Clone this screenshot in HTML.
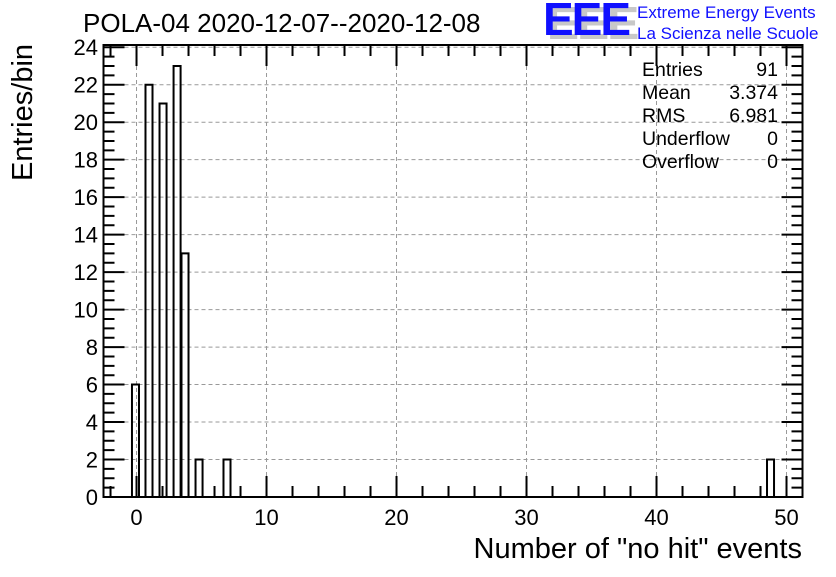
<!DOCTYPE html>
<html><head><meta charset="utf-8"><style>
body{margin:0;background:#fff;width:836px;height:572px;overflow:hidden}
svg{font-family:"Liberation Sans",sans-serif}
</style></head><body>
<svg id="c" width="836" height="572"></svg>
<script>
const binLo=[-0.35,0.69,1.77,2.85,3.46,4.54,6.69,48.5];
const counts=[6,22,21,23,13,2,2,2];
const binW=0.54;
const xTicks=[0,10,20,30,40,50];
const yTicks=[0,2,4,6,8,10,12,14,16,18,20,22,24];
const statNames=["Entries","Mean","RMS","Underflow","Overflow"];
const statVals=["91","3.374","6.981","0","0"];

const L=103.5,R=802.5,T=45,B=497;
const xmin=-2.54,xmax=51.23,ymin=0,ymax=24.12;
const sx=v=>L+(v-xmin)/(xmax-xmin)*(R-L);
const sy=v=>B-(v-ymin)/(ymax-ymin)*(B-T);
const svg=document.getElementById('c');
const NS="http://www.w3.org/2000/svg";
function mk(tag,attrs,parent){const e=document.createElementNS(NS,tag);for(const k in attrs)e.setAttribute(k,attrs[k]);(parent||svg).appendChild(e);return e;}
for(const t of xTicks){const g=mk('line',{x1:sx(t),x2:sx(t),y1:T,y2:B,stroke:'#999','stroke-dasharray':'4,3','stroke-width':1});

}
for(const t of yTicks){const g=mk('line',{x1:L,x2:R,y1:sy(t),y2:sy(t),stroke:'#999','stroke-dasharray':'4,3','stroke-width':1});

}
for(let i=0;i<counts.length;i++){
 const x0=sx(binLo[i]),x1=sx(binLo[i]+binW),y=sy(counts[i]);
 const p=mk('path',{d:`M${x0},${B} L${x0},${y} L${x1},${y} L${x1},${B}`,fill:'none',stroke:'#000','stroke-width':2});
 
 
}
let d='';
for(let v=-2;v<=51;v+=2){const x=sx(v);const len=(v%10===0)?21:11;d+=`M${x},${B}v${-len}M${x},${T}v${len}`;}
for(let v=0;v<=24;v+=0.5){const y=sy(v);const len=(v%2===0)?21:11;d+=`M${L},${y}h${len}M${R},${y}h${-len}`;}
const tk=mk('path',{d:d,stroke:'#000','stroke-width':2,fill:'none'});


const fr=mk('rect',{x:L,y:T,width:R-L,height:B-T,fill:'none',stroke:'#000','stroke-width':2});


for(const t of xTicks){const e=mk('text',{x:sx(t),y:525,'text-anchor':'middle','font-size':22});e.textContent=t;

}
for(const t of yTicks){const e=mk('text',{x:98,y:sy(t)+8,'text-anchor':'end','font-size':22});e.textContent=t;

}
statNames.forEach((n,i)=>{
 const y=76+i*23;
 const a=mk('text',{x:642,y:y,'font-size':19.5});a.textContent=n;
 
 
 const b=mk('text',{x:778,y:y,'font-size':19.5,'text-anchor':'end'});b.textContent=statVals[i];
 
 
});
</script>
<div style="position:absolute;left:83px;top:8px;font:26px 'Liberation Sans',sans-serif;white-space:nowrap">POLA-04 2020-12-07--2020-12-08</div>
<div style="position:absolute;right:34px;top:533px;font:29px 'Liberation Sans',sans-serif;white-space:nowrap">Number of "no hit" events</div>
<div style="position:absolute;left:7px;top:181px;transform-origin:0 0;transform:rotate(-90deg);font:29px 'Liberation Sans',sans-serif;white-space:nowrap">Entries/bin</div>
<div style="position:absolute;left:549px;top:0px;font:bold 46px 'Liberation Sans',sans-serif;color:#c8c8c8;letter-spacing:-2px;line-height:46px;transform:scaleX(1.05)">EEE</div>
<div style="position:absolute;left:543px;top:-4px;font:bold 46px 'Liberation Sans',sans-serif;color:#1010ff;letter-spacing:-2px;line-height:46px">EEE</div>
<div style="position:absolute;left:637px;top:2px;font:17px 'Liberation Sans',sans-serif;color:#1010ff;line-height:21px;white-space:nowrap">Extreme Energy Events<br>La Scienza nelle Scuole</div>
</body></html>
